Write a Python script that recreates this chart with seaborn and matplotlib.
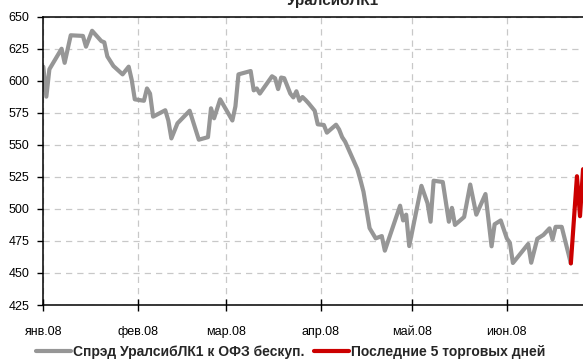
import matplotlib
matplotlib.use("Agg")
import matplotlib.pyplot as plt
from matplotlib import font_manager
import seaborn as sns
import pandas as pd

# ---------------- data ----------------
title = "УралсибЛК1"
series_label = "Спрэд УралсибЛК1 к ОФЗ бескуп."
last_label = "Последние 5 торговых дней"

spread_dates = [
    "2008-01-01", "2008-01-02", "2008-01-03", "2008-01-07", "2008-01-08", "2008-01-10",
    "2008-01-14", "2008-01-15", "2008-01-17", "2008-01-20", "2008-01-21", "2008-01-22",
    "2008-01-24", "2008-01-27", "2008-01-29", "2008-01-30", "2008-01-31", "2008-02-03",
    "2008-02-04", "2008-02-05", "2008-02-06", "2008-02-10", "2008-02-11", "2008-02-12",
    "2008-02-14", "2008-02-18", "2008-02-21", "2008-02-24", "2008-02-25", "2008-02-26",
    "2008-02-28", "2008-03-03", "2008-03-04", "2008-03-05", "2008-03-09", "2008-03-10",
    "2008-03-11", "2008-03-12", "2008-03-16", "2008-03-17", "2008-03-18", "2008-03-19",
    "2008-03-20", "2008-03-22", "2008-03-23", "2008-03-24", "2008-03-25", "2008-03-26",
    "2008-03-27", "2008-03-28", "2008-03-30", "2008-03-31", "2008-04-02", "2008-04-03",
    "2008-04-06", "2008-04-07", "2008-04-08", "2008-04-09", "2008-04-13", "2008-04-14",
    "2008-04-15", "2008-04-17", "2008-04-19", "2008-04-21", "2008-04-22", "2008-04-27",
    "2008-04-28", "2008-04-29", "2008-04-30", "2008-05-04", "2008-05-06", "2008-05-07",
    "2008-05-08", "2008-05-11", "2008-05-13", "2008-05-14", "2008-05-15", "2008-05-18",
    "2008-05-20", "2008-05-22", "2008-05-25", "2008-05-27", "2008-05-28", "2008-05-30",
    "2008-06-01", "2008-06-02", "2008-06-03", "2008-06-08", "2008-06-09", "2008-06-11",
    "2008-06-13", "2008-06-15", "2008-06-16", "2008-06-17", "2008-06-19", "2008-06-22",
]
spread_values = [
    611, 587.6, 609, 625, 614, 635.5,
    635, 626.6, 639, 631, 630, 619,
    611.5, 605, 611, 600.6, 585.5, 584.4,
    594, 590, 572, 577, 569, 555,
    566.8, 576.6, 554, 556, 578.5, 570.7,
    585.5, 569, 580, 605, 607.6, 592.5,
    594, 590, 603.5, 602, 593.5, 602.5,
    602, 590, 587, 591.8, 584.4, 587.3,
    585, 582.4, 576.6, 566, 565.5, 559.5,
    565.7, 562, 556, 552.4, 531, 522.6,
    513.4, 485, 477, 478.8, 467.4, 502.5,
    491, 495.5, 471, 518, 504.4, 490,
    522, 521, 490, 500.8, 487.5, 493.7,
    519, 495.5, 511.6, 470.8, 488, 491,
    477, 473.6, 457.8, 472.6, 458, 476.7,
    479.7, 484.8, 476.3, 486, 486, 457.5,
]

last_dates = ["2008-06-22", "2008-06-24", "2008-06-25", "2008-06-26", "2008-06-27"]
last_values = [457.5, 525.5, 494.3, 531, 520]

month_ticks = ["2008-01-01", "2008-02-01", "2008-03-01", "2008-04-01", "2008-05-01", "2008-06-01"]
month_labels = ["янв.08", "фев.08", "мар.08", "апр.08", "май.08", "июн.08"]
y_ticks = [425, 450, 475, 500, 525, 550, 575, 600, 625, 650]

# ---------------- style ----------------
sns.set_style("white")
available = {f.name for f in font_manager.fontManager.ttflist}
fam = [f for f in ["Liberation Sans", "Arial", "DejaVu Sans"] if f in available]
plt.rcParams["font.family"] = fam

GRAY = "#969696"
RED = "#CC0000"

df_all = pd.DataFrame({"date": pd.to_datetime(spread_dates), "spread": spread_values})
df_last = pd.DataFrame({"date": pd.to_datetime(last_dates), "spread": last_values})

fig = plt.figure(figsize=(5.83, 3.61), dpi=100)
# axes extends past the right edge of the picture (cropped chart)
ax = fig.add_axes([43.3 / 583, 56 / 361, 555 / 583, 288.3 / 361])

sns.lineplot(data=df_all, x="date", y="spread", color=GRAY, linewidth=3.0,
             ax=ax, label=series_label, legend=False)
sns.lineplot(data=df_last, x="date", y="spread", color=RED, linewidth=3.0,
             ax=ax, label=last_label, legend=False)

ax.set_xlim(pd.Timestamp("2008-01-01"), pd.Timestamp("2008-07-01"))
ax.set_ylim(425, 650)
ax.set_yticks(y_ticks)
ax.set_xticks(pd.to_datetime(month_ticks))
ax.set_xticklabels(month_labels)
ax.set_xlabel("")
ax.set_ylabel("")

ax.grid(True, which="major", color="#c8c8c8", linestyle=(0, (5, 4)), linewidth=0.9)
ax.set_axisbelow(True)

for side in ["left", "bottom", "top", "right"]:
    ax.spines[side].set_visible(True)
    ax.spines[side].set_color("black")
    ax.spines[side].set_linewidth(1.1)

ax.tick_params(axis="y", direction="out", length=4, width=1, pad=6,
               labelsize=9, colors="black", left=True)
ax.tick_params(axis="x", direction="inout", length=8, width=1, pad=11,
               labelsize=9, colors="black", bottom=True)

fig.text(333 / 583, 1 - 5 / 361, title, ha="center", va="baseline",
         fontsize=11, fontweight="bold")

fig.legend(handles=[ax.lines[0], ax.lines[-1]], labels=[series_label, last_label],
           loc="center", bbox_to_anchor=(291 / 583, 1 - 351.7 / 361), ncol=2,
           frameon=False, handlelength=2.5, handletextpad=0.15,
           columnspacing=0.7, prop={"size": 10, "weight": "bold"},
           borderaxespad=0, borderpad=0)

fig.savefig("out.png", dpi=100)
